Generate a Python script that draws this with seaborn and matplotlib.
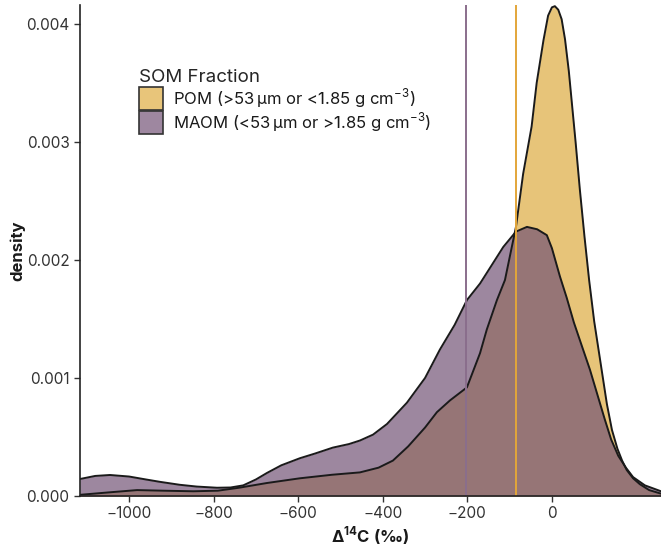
import matplotlib
matplotlib.use("Agg")
import pandas as pd
import matplotlib.pyplot as plt
import seaborn as sns
from matplotlib.patches import Patch

# Density curves (x in permil, density in units of 1e-3)
pom_d14c = [-1116, -1050, -981, -920, -848, -790, -740, -674, -596, -520,
            -454, -410, -376, -340, -300, -272, -241, -201, -170, -154,
            -130, -111, -85, -68, -48, -36, -20, -9, 0, 7,
            15, 23, 31, 40, 48, 56, 66, 77, 88, 100,
            115, 130, 142, 155, 166, 177, 192, 208, 230, 258]
pom_density = [0.010, 0.030, 0.050, 0.045, 0.040, 0.045, 0.070, 0.110, 0.150, 0.180,
               0.200, 0.240, 0.300, 0.420, 0.580, 0.710, 0.810, 0.920, 1.210, 1.410,
               1.660, 1.830, 2.280, 2.730, 3.130, 3.500, 3.860, 4.070, 4.140, 4.150,
               4.120, 4.040, 3.870, 3.600, 3.300, 3.000, 2.600, 2.200, 1.830, 1.480,
               1.130, 0.780, 0.560, 0.400, 0.300, 0.220, 0.150, 0.100, 0.050, 0.020]

maom_d14c = [-1116, -1080, -1045, -1000, -960, -927, -880, -840, -792, -760,
             -730, -700, -674, -640, -596, -560, -518, -480, -454, -423,
             -390, -343, -300, -265, -230, -201, -170, -154, -115, -85,
             -59, -35, -12, 0, 19, 35, 52, 70, 90, 110,
             125, 140, 157, 175, 192, 220, 258]
maom_density = [0.144, 0.170, 0.178, 0.165, 0.140, 0.120, 0.095, 0.080, 0.070, 0.072,
                0.090, 0.140, 0.195, 0.260, 0.320, 0.360, 0.410, 0.440, 0.470, 0.520,
                0.610, 0.790, 1.000, 1.240, 1.450, 1.660, 1.800, 1.890, 2.110, 2.240,
                2.280, 2.260, 2.210, 2.100, 1.860, 1.680, 1.470, 1.280, 1.070, 0.830,
                0.650, 0.480, 0.340, 0.240, 0.160, 0.090, 0.040]

# Mean values (vertical lines)
fractions = ["POM", "MAOM"]
mean_d14c = [-85, -202]
legend_labels = ["POM (>53\u2009µm or <1.85 g cm$^{-3}$)",
                 "MAOM (<53\u2009µm or >1.85 g cm$^{-3}$)"]

x_ticks = [-1000, -800, -600, -400, -200, 0]
y_ticks = [0.000, 0.001, 0.002, 0.003, 0.004]

fill_colors = {"POM": "#DEAC41", "MAOM": "#745476"}
legend_colors = {"POM": "#E8C57A", "MAOM": "#9E87A0"}
line_colors = {"POM": "#E3A63A", "MAOM": "#8A6E8C"}

sns.set_theme(style="ticks")
plt.rcParams["font.family"] = ["Inter", "DejaVu Sans"]
plt.rcParams["mathtext.fontset"] = "custom"
plt.rcParams["mathtext.rm"] = "Inter"
plt.rcParams["mathtext.bf"] = "Inter:bold"

curves = {
    "POM": pd.DataFrame({"x": pom_d14c, "density": [d * 1e-3 for d in pom_density]}),
    "MAOM": pd.DataFrame({"x": maom_d14c, "density": [d * 1e-3 for d in maom_density]}),
}

fig = plt.figure(figsize=(6.61, 5.52), dpi=100)
ax = fig.add_axes([80 / 661, 1 - 496 / 552, 1 - 80 / 661, 491 / 552])

for name in fractions:
    df = curves[name]
    ax.fill_between(df["x"], df["density"], color=fill_colors[name], alpha=0.7, lw=0)
    sns.lineplot(data=df, x="x", y="density", color="#1a1a1a", lw=1.4,
                 sort=False, estimator=None, ax=ax)

for name, m in zip(fractions, mean_d14c):
    ax.axvline(m, color=line_colors[name], lw=1.4)

ax.set_xlim(-1116, 258)
ax.set_ylim(0, 0.00416)
ax.set_xticks(x_ticks)
ax.set_xticklabels([str(t).replace("-", "\u2212") for t in x_ticks])
ax.set_yticks(y_ticks)
ax.set_yticklabels([f"{t:.3f}" for t in y_ticks])
ax.tick_params(length=4, width=1, color="#333333", labelsize=11, labelcolor="#333333")
for s in ["left", "bottom"]:
    ax.spines[s].set_color("#222222")
    ax.spines[s].set_linewidth(1.2)
sns.despine(ax=ax)

ax.set_xlabel(r"Δ$^{\mathbf{14}}$C (‰)", fontsize=12, fontweight="bold",
              color="#1a1a1a", labelpad=2)
ax.set_ylabel("density", fontsize=12, fontweight="bold", color="#1a1a1a", labelpad=0.5)

handles = [Patch(facecolor=legend_colors[n], edgecolor="#333333", lw=1.2) for n in fractions]
leg = ax.legend(handles, legend_labels, title="SOM Fraction", loc="upper left",
                bbox_to_anchor=(0.076, 0.9), frameon=False, fontsize=12,
                title_fontsize=13.5, handlelength=1.45, handleheight=1.75,
                labelspacing=0.0, handletextpad=0.6, alignment="left")
for t in leg.get_texts():
    t.set_color("#1a1a1a")

fig.savefig("out.png", dpi=100)
